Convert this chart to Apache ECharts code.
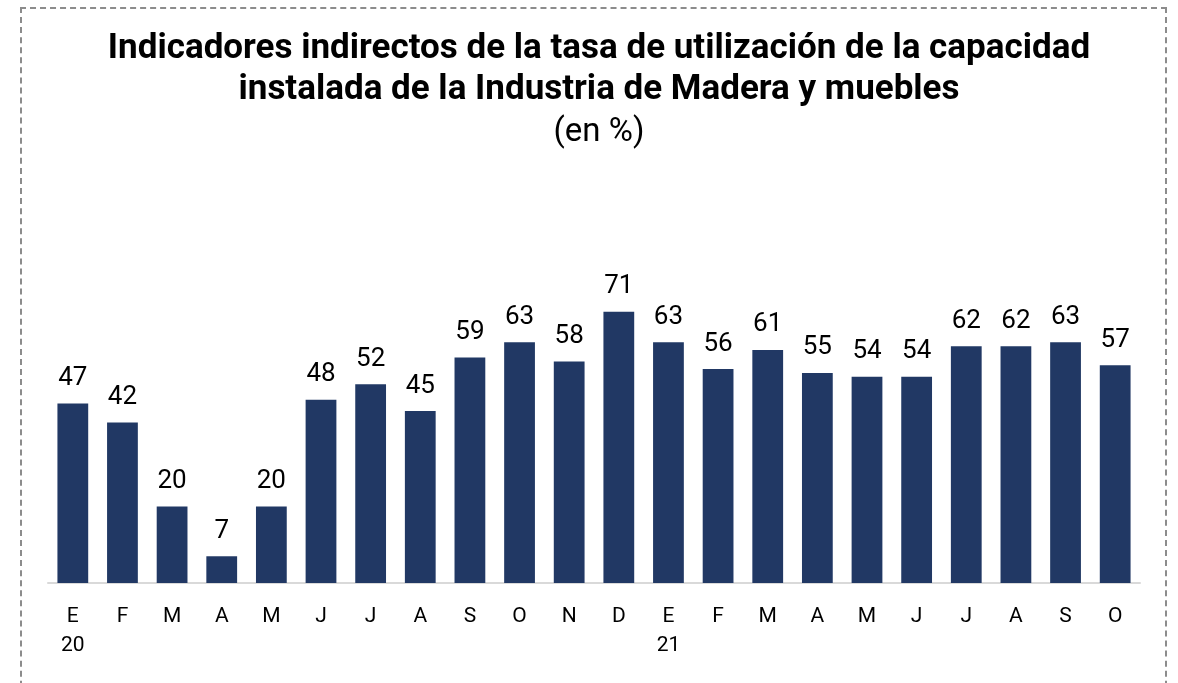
<!DOCTYPE html>
<html>
<head>
<meta charset="utf-8">
<script src="https://cdn.jsdelivr.net/npm/echarts@6/dist/echarts.min.js"></script>
<style>
  html, body { margin: 0; padding: 0; background: #fff; }
  #frame {
    position: absolute; left: 20px; top: 7px; width: 1147px; height: 720px;
    border: 2px dashed #8c8c8c; box-sizing: border-box;
  }
  #chart { position: absolute; left: 0; top: 0; width: 1178px; height: 683px; }
</style>
</head>
<body>
<div id="frame"></div>
<div id="chart"></div>
<script>
const months = ['E', 'F', 'M', 'A', 'M', 'J', 'J', 'A', 'S', 'O', 'N', 'D',
  'E', 'F', 'M', 'A', 'M', 'J', 'J', 'A', 'S', 'O'];
const years = { 0: '20', 12: '21' };
const values = [47, 42, 20, 7, 20, 48, 52, 45, 59, 63, 58, 71,
  63, 56, 61, 55, 54, 54, 62, 62, 63, 57];

const categories = months.map((m, i) => (years[i] ? m + '\n' + years[i] : m));

const chart = echarts.init(document.getElementById('chart'));
chart.setOption({
  animation: false,
  textStyle: { fontFamily: 'Roboto' },
  title: [
    {
      text: 'Indicadores indirectos de la tasa de utilización de la capacidad\ninstalada de la Industria de Madera y muebles',
      left: 594, top: 24, textAlign: 'center',
      textStyle: { fontSize: 35, fontWeight: 'bold', color: '#000', lineHeight: 41, fontFamily: 'Roboto' }
    },
    {
      text: '(en %)',
      left: 594, top: 108, textAlign: 'center',
      textStyle: { fontSize: 33, fontWeight: 'normal', color: '#000', lineHeight: 40, fontFamily: 'Roboto' }
    }
  ],
  grid: { left: 48, right: 38, top: 201, bottom: 100, containLabel: false },
  xAxis: {
    type: 'category',
    data: categories,
    axisLine: { lineStyle: { color: '#d9d9d9', width: 2 } },
    axisTick: { show: false },
    axisLabel: { color: '#000', fontSize: 21, lineHeight: 29, margin: 19, interval: 0 }
  },
  yAxis: {
    type: 'value', min: 0, max: 100,
    show: false,
    splitLine: { show: false }
  },
  series: [{
    type: 'bar',
    data: values,
    barWidth: '62%',
    itemStyle: { color: '#213864' },
    label: { show: true, position: 'top', distance: 12, color: '#000', fontSize: 26 }
  }]
});
</script>
</body>
</html>
